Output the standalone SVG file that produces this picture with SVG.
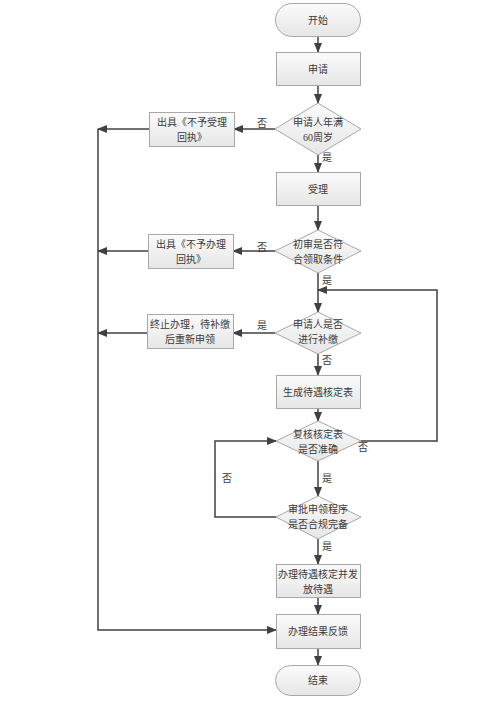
<svg xmlns="http://www.w3.org/2000/svg" width="495" height="702" viewBox="0 0 495 702">
<defs>
<linearGradient id="g" x1="0" y1="0" x2="0" y2="1">
<stop offset="0" stop-color="#fbfbfb"/>
<stop offset="1" stop-color="#e6e6e6"/>
</linearGradient>
<marker id="ah" markerWidth="10" markerHeight="8" refX="9" refY="4" orient="auto" markerUnits="userSpaceOnUse">
<path d="M0,0 L10,4 L0,8 Z" fill="#404040"/>
</marker>
<style>
.n{fill:url(#g);stroke:#a8a8a8;stroke-width:1}
.t{font-family:"Liberation Serif","Noto Sans CJK SC",serif;font-size:10px;fill:#3a3a3a;text-anchor:middle}
.l{font-family:"Liberation Serif","Noto Sans CJK SC",serif;font-size:10px;fill:#3a3a3a}
.c{fill:none;stroke:#404040;stroke-width:1.5}
.a{marker-end:url(#ah)}
</style>
</defs>
<rect width="495" height="702" fill="#ffffff"/>
<g id="connectors">
<line class="c a" x1="318" y1="37" x2="318" y2="52"/>
<line class="c a" x1="318" y1="85" x2="318" y2="103"/>
<line class="c a" x1="318" y1="155" x2="318" y2="172"/>
<line class="c a" x1="318" y1="205" x2="318" y2="230"/>
<line class="c a" x1="318" y1="273" x2="318" y2="312"/>
<line class="c a" x1="318" y1="354" x2="318" y2="375"/>
<line class="c a" x1="318" y1="408" x2="318" y2="421"/>
<line class="c a" x1="318" y1="461" x2="318" y2="496"/>
<line class="c a" x1="318" y1="539" x2="318" y2="564"/>
<line class="c a" x1="318" y1="597" x2="318" y2="614"/>
<line class="c a" x1="318" y1="648" x2="318" y2="665"/>
<line class="c a" x1="275" y1="129" x2="234" y2="129"/>
<line class="c a" x1="149" y1="129" x2="98" y2="129"/>
<line class="c a" x1="275" y1="251" x2="233" y2="251"/>
<line class="c a" x1="148" y1="251" x2="98" y2="251"/>
<line class="c a" x1="275" y1="333" x2="233" y2="333"/>
<line class="c a" x1="147" y1="333" x2="98" y2="333"/>
<polyline class="c a" points="98,129 98,630 276,630"/>
<polyline class="c a" points="361,441 437,441 437,290 318,290"/>
<polyline class="c a" points="276,517 215,517 215,441 276,441"/>
</g>
<g id="start"><rect class="n" x="275.5" y="3.5" width="85" height="33" rx="16.5"/><text class="t" x="318" y="24">开始</text></g>
<g id="apply"><rect class="n" x="276.5" y="52.5" width="84" height="33"/><text class="t" x="318" y="73">申请</text></g>
<g id="d1"><polygon class="n" points="318,103 361,129 318,155 275,129"/><text class="t" x="318" y="126">申请人年满</text><text class="t" x="318" y="141">60周岁</text></g>
<g id="r1"><rect class="n" x="149.5" y="112.5" width="85" height="34"/><text class="t" x="192" y="126">出具《不予受理</text><text class="t" x="192" y="141">回执》</text></g>
<g id="accept"><rect class="n" x="276.5" y="172.5" width="84" height="33"/><text class="t" x="318" y="193">受理</text></g>
<g id="d2"><polygon class="n" points="318,230 361,251 318,273 275,251"/><text class="t" x="318" y="248">初审是否符</text><text class="t" x="318" y="263">合领取条件</text></g>
<g id="r2"><rect class="n" x="148.5" y="234.5" width="85" height="34"/><text class="t" x="191" y="248">出具《不予办理</text><text class="t" x="191" y="263">回执》</text></g>
<g id="d3"><polygon class="n" points="318,312 361,333 318,354 275,333"/><text class="t" x="318" y="328">申请人是否</text><text class="t" x="318" y="343">进行补缴</text></g>
<g id="r3"><rect class="n" x="147.5" y="314.5" width="86" height="34"/><text class="t" x="190" y="328">终止办理，待补缴</text><text class="t" x="190" y="343">后重新申领</text></g>
<g id="gen"><rect class="n" x="276.5" y="375.5" width="84" height="33"/><text class="t" x="318" y="396">生成待遇核定表</text></g>
<g id="d4"><polygon class="n" points="318,421 361,441 318,461 276,441"/><text class="t" x="318" y="438">复核核定表</text><text class="t" x="318" y="453">是否准确</text></g>
<g id="d5"><polygon class="n" points="318,496 361,517 318,539 276,517"/><text class="t" x="318" y="513">审批申领程序</text><text class="t" x="318" y="528">是否合规完备</text></g>
<g id="grant"><rect class="n" x="276.5" y="564.5" width="84" height="33"/><text class="t" x="318" y="578">办理待遇核定并发</text><text class="t" x="318" y="593">放待遇</text></g>
<g id="feedback"><rect class="n" x="276.5" y="614.5" width="84" height="34"/><text class="t" x="318" y="635">办理结果反馈</text></g>
<g id="end"><rect class="n" x="275.5" y="665.5" width="85" height="30" rx="15"/><text class="t" x="318" y="684">结束</text></g>
<g id="labels">
<text class="l" x="257" y="127">否</text>
<text class="l" x="322" y="161">是</text>
<text class="l" x="257" y="251">否</text>
<text class="l" x="322" y="284">是</text>
<text class="l" x="257" y="329">是</text>
<text class="l" x="322" y="364">否</text>
<text class="l" x="358" y="451">否</text>
<text class="l" x="222" y="482">否</text>
<text class="l" x="322" y="482">是</text>
<text class="l" x="322" y="550">是</text>
</g>
</svg>
